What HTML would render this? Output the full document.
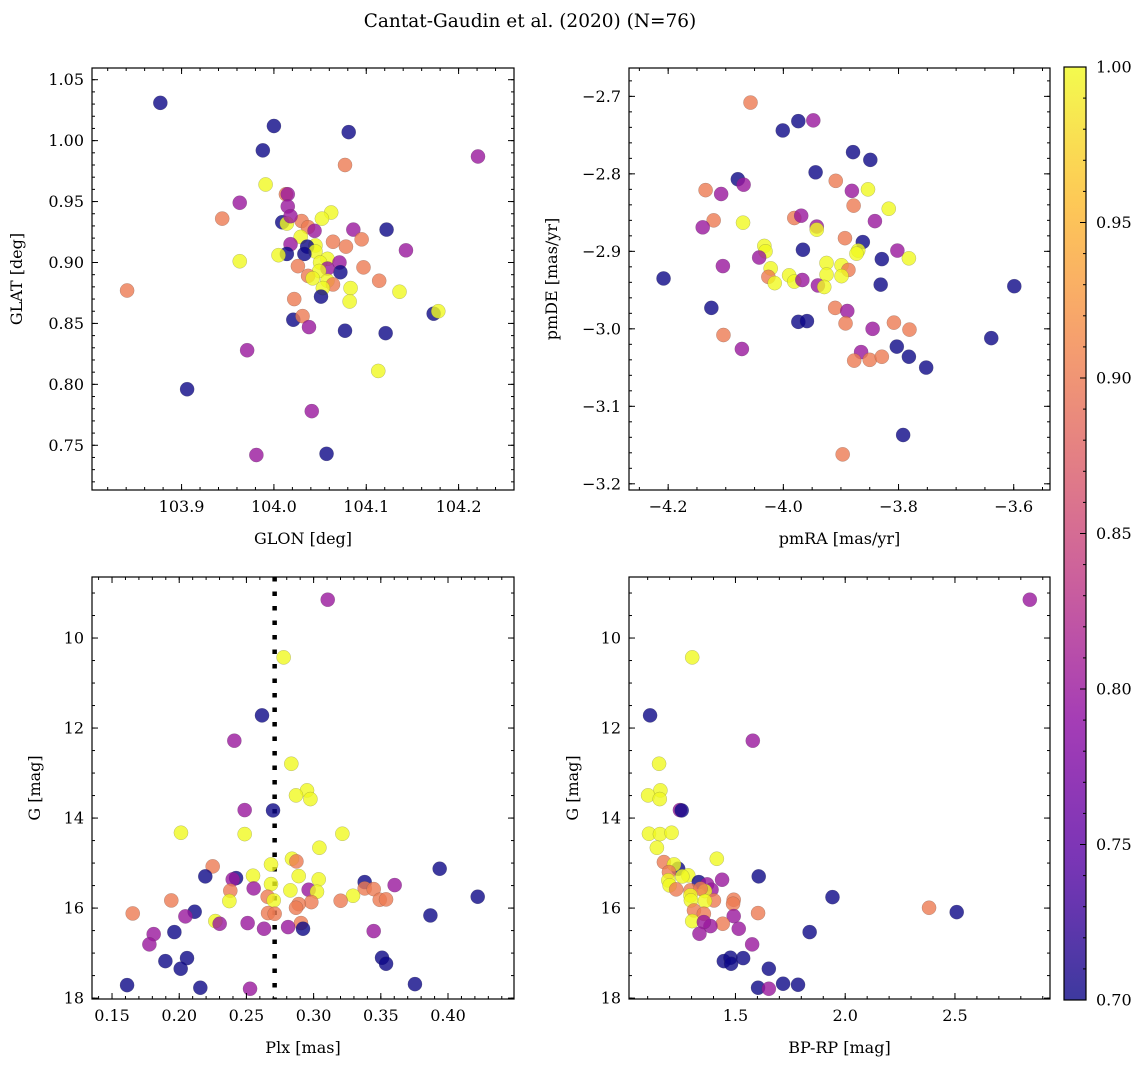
<!DOCTYPE html>
<html><head><meta charset="utf-8"><style>
html,body{margin:0;padding:0;background:#fff;}
svg{display:block;font-family:"DejaVu Serif","Liberation Serif",serif;}
</style></head><body>
<svg id="fig" width="1148" height="1067" viewBox="0 0 1148 1067" xmlns="http://www.w3.org/2000/svg">
<text x="530" y="27" text-anchor="middle" font-size="18.5">Cantat-Gaudin et al. (2020) (N=76)</text>
</svg>
<script>
// ---- data: panel 1 (GLON / GLAT) ----
const p1x=[103.877,104.000,104.081,103.988,104.221,104.077,103.991,104.013,104.015,103.963,104.015,103.944,104.062,104.052,104.009,104.014,104.030,104.037,104.044,104.018,104.029,104.086,104.122,104.095,104.064,104.078,104.018,104.045,104.036,104.045,104.143,104.014,104.005,104.033,104.058,104.071,103.963,104.050,104.026,104.097,104.072,104.058,104.049,104.037,104.042,104.114,104.058,104.064,104.053,104.083,104.136,103.841,104.051,104.022,104.082,104.173,104.178,104.021,104.031,104.038,104.077,104.121,103.971,104.113,103.906,104.041,103.981,104.057];
const p1y=[1.031,1.012,1.007,0.992,0.987,0.980,0.964,0.956,0.956,0.949,0.946,0.936,0.941,0.936,0.933,0.932,0.934,0.929,0.926,0.938,0.921,0.927,0.927,0.919,0.917,0.913,0.915,0.914,0.913,0.909,0.910,0.907,0.906,0.907,0.903,0.900,0.901,0.900,0.897,0.896,0.892,0.895,0.893,0.889,0.887,0.885,0.885,0.882,0.879,0.879,0.876,0.877,0.872,0.870,0.868,0.858,0.860,0.853,0.856,0.847,0.844,0.842,0.828,0.811,0.796,0.778,0.742,0.743];
const p1p=[0.70,0.70,0.70,0.70,0.80,0.90,1.00,0.90,0.80,0.80,0.80,0.90,1.00,1.00,0.70,1.00,0.90,0.90,0.80,0.80,1.00,0.80,0.70,0.90,0.90,0.90,0.80,1.00,0.70,1.00,0.80,0.70,1.00,0.70,1.00,0.80,1.00,1.00,0.90,0.90,0.70,0.80,1.00,0.90,1.00,0.90,1.00,0.90,1.00,1.00,1.00,0.90,0.70,0.90,1.00,0.70,1.00,0.70,0.90,0.80,0.70,0.70,0.80,1.00,0.70,0.80,0.80,0.70];
// ---- data: panel 2 (pmRA / pmDE) ----
const p2x=[-4.057,-4.001,-3.974,-3.948,-3.879,-3.849,-3.944,-4.079,-4.069,-3.909,-4.135,-4.108,-3.881,-3.853,-3.878,-3.817,-3.981,-3.969,-4.121,-4.140,-4.070,-3.942,-3.942,-3.841,-3.893,-3.862,-3.966,-4.033,-4.031,-3.870,-3.873,-3.802,-4.042,-3.829,-3.782,-3.925,-4.105,-4.022,-3.899,-3.887,-3.925,-3.899,-4.026,-3.990,-3.981,-3.967,-4.015,-4.208,-3.940,-3.929,-3.831,-3.599,-4.125,-3.910,-3.889,-3.892,-3.974,-3.959,-3.845,-3.808,-3.781,-4.104,-4.072,-3.639,-3.803,-3.865,-3.877,-3.850,-3.829,-3.782,-3.752,-3.792,-3.897];
const p2y=[-2.708,-2.744,-2.732,-2.731,-2.772,-2.782,-2.798,-2.807,-2.814,-2.809,-2.821,-2.826,-2.822,-2.820,-2.841,-2.845,-2.857,-2.854,-2.860,-2.869,-2.863,-2.868,-2.872,-2.861,-2.883,-2.888,-2.898,-2.893,-2.900,-2.899,-2.903,-2.899,-2.908,-2.910,-2.909,-2.915,-2.919,-2.922,-2.918,-2.924,-2.930,-2.932,-2.933,-2.931,-2.939,-2.937,-2.941,-2.935,-2.944,-2.946,-2.943,-2.945,-2.973,-2.973,-2.977,-2.993,-2.991,-2.990,-3.000,-2.992,-3.001,-3.008,-3.026,-3.012,-3.023,-3.030,-3.041,-3.040,-3.036,-3.036,-3.050,-3.137,-3.162];
const p2p=[0.90,0.70,0.70,0.80,0.70,0.70,0.70,0.70,0.80,0.90,0.90,0.80,0.80,1.00,0.90,1.00,0.90,0.80,0.90,0.80,1.00,0.80,1.00,0.80,0.90,0.70,0.70,1.00,1.00,1.00,1.00,0.80,0.80,0.70,1.00,1.00,0.80,1.00,1.00,0.90,1.00,1.00,0.90,1.00,1.00,0.80,1.00,0.70,0.80,1.00,0.70,0.70,0.70,0.90,0.80,0.90,0.70,0.70,0.80,0.90,0.90,0.90,0.80,0.70,0.70,0.80,0.90,0.90,0.90,0.70,0.70,0.70,0.90];
// ---- data: panel 3 (Plx / G) ----
const p3x=[0.3105,0.2777,0.2616,0.2410,0.2834,0.2951,0.2869,0.2976,0.2487,0.2698,0.2013,0.2487,0.3214,0.3043,0.2839,0.2872,0.2249,0.3938,0.2683,0.2194,0.2423,0.2549,0.2889,0.2398,0.3038,0.3380,0.3603,0.2683,0.2554,0.2380,0.2827,0.2963,0.3025,0.3380,0.3447,0.4221,0.3293,0.2658,0.1941,0.2373,0.2703,0.2983,0.3201,0.3492,0.3539,0.2889,0.2869,0.2115,0.1654,0.2046,0.3869,0.2661,0.2710,0.2269,0.2301,0.2509,0.2906,0.2921,0.2810,0.2631,0.1964,0.1810,0.3447,0.1778,0.1897,0.2058,0.2011,0.3509,0.3539,0.1612,0.2157,0.2527,0.3754];
const p3y=[9.148,10.430,11.719,12.281,12.793,13.385,13.496,13.578,13.822,13.830,14.326,14.356,14.348,14.659,14.904,14.963,15.074,15.126,15.030,15.296,15.333,15.281,15.289,15.363,15.363,15.422,15.489,15.467,15.563,15.615,15.607,15.593,15.637,15.563,15.578,15.748,15.726,15.748,15.830,15.844,15.830,15.867,15.837,15.815,15.807,15.911,15.993,16.081,16.119,16.185,16.163,16.111,16.126,16.289,16.348,16.333,16.333,16.459,16.422,16.459,16.533,16.578,16.511,16.807,17.178,17.111,17.348,17.104,17.237,17.711,17.770,17.793,17.689];
const p3p=[0.80,1.00,0.70,0.80,1.00,1.00,1.00,1.00,0.80,0.70,1.00,1.00,1.00,1.00,1.00,0.90,0.90,0.70,1.00,0.70,0.70,1.00,1.00,0.80,1.00,0.70,0.80,1.00,0.80,0.90,1.00,0.80,1.00,0.90,0.90,0.70,1.00,0.90,0.90,1.00,1.00,0.90,0.90,0.90,0.90,0.90,0.90,0.70,0.90,0.80,0.70,0.90,0.90,1.00,0.80,0.80,0.90,0.70,0.80,0.80,0.70,0.80,0.80,0.80,0.70,0.70,0.70,0.70,0.70,0.70,0.70,0.80,0.70];
// ---- data: panel 4 (BP-RP / G) ----
const p4x=[2.841,1.303,1.111,1.579,1.152,1.158,1.102,1.155,1.247,1.255,1.106,1.156,1.209,1.142,1.415,1.174,1.239,1.220,1.197,1.606,1.285,1.258,1.439,1.333,1.194,1.200,1.230,1.371,1.391,1.295,1.361,1.341,1.295,1.942,1.492,1.402,1.361,1.297,1.489,2.382,2.508,1.311,1.356,1.603,1.492,1.303,1.442,1.386,1.356,1.515,1.336,1.838,1.576,1.447,1.477,1.480,1.535,1.652,1.603,1.652,1.717,1.785];
const p4y=[9.148,10.430,11.719,12.281,12.793,13.385,13.496,13.578,13.822,13.830,14.348,14.356,14.326,14.659,14.904,14.978,15.126,15.030,15.200,15.296,15.274,15.296,15.370,15.422,15.385,15.496,15.585,15.474,15.593,15.607,15.622,15.570,15.719,15.756,15.815,15.830,15.844,15.830,15.904,15.993,16.089,16.052,16.126,16.111,16.178,16.289,16.348,16.400,16.311,16.459,16.570,16.533,16.807,17.178,17.104,17.237,17.111,17.348,17.770,17.793,17.681,17.704];
const p4p=[0.80,1.00,0.70,0.80,1.00,1.00,1.00,1.00,0.80,0.70,1.00,1.00,1.00,1.00,1.00,0.90,0.70,1.00,0.90,0.70,1.00,1.00,0.80,0.70,1.00,1.00,0.90,0.80,0.80,0.90,1.00,0.90,1.00,0.70,0.90,0.90,1.00,1.00,0.90,0.90,0.70,0.90,0.90,0.90,0.80,1.00,0.90,0.80,0.80,0.80,0.80,0.70,0.80,0.70,0.70,0.70,0.70,0.70,0.70,0.80,0.70,0.70];
// ---- tick labels ----
const p1xt=[103.9,104.0,104.1,104.2];
const p1yt=[0.75,0.80,0.85,0.90,0.95,1.00,1.05];
const p2xt=[-4.2,-4.0,-3.8,-3.6];
const p2yt=[-2.7,-2.8,-2.9,-3.0,-3.1,-3.2];
const p3xt=[0.15,0.20,0.25,0.30,0.35,0.40];
const gYt=[10,12,14,16,18];
const p4xt=[1.5,2.0,2.5];
const cbt=[0.70,0.75,0.80,0.85,0.90,0.95,1.00];
const plxLine=0.271;

const NS='http://www.w3.org/2000/svg';
const svg=document.getElementById('fig');
function mk(tag,attrs,parent){const e=document.createElementNS(NS,tag);for(const k in attrs)e.setAttribute(k,attrs[k]);(parent||svg).appendChild(e);return e;}
const stops=[[0,[13,8,135]],[0.14,[84,2,163]],[0.29,[139,10,165]],[0.43,[185,50,137]],[0.57,[219,92,104]],[0.71,[244,136,73]],[0.86,[254,188,43]],[1,[240,249,33]]];
function plasma(t){t=Math.max(0,Math.min(1,t));for(let i=1;i<stops.length;i++){if(t<=stops[i][0]){const a=stops[i-1],b=stops[i];const f=(t-a[0])/(b[0]-a[0]);const c=a[1].map((v,j)=>Math.round(v+(b[1][j]-v)*f));return 'rgb('+c.join(',')+')';}}return 'rgb(240,249,33)';}
function cval(p){return plasma((p-0.7)/0.3);}
function fmt(v,d){const s=v.toFixed(d);return s.replace('-','\u2212');}

function panel(o){
  const g=mk('g',{});
  
  
  const sx=v=>o.L+(v-o.x0)/(o.x1-o.x0)*(o.R-o.L);
  const sy=v=>o.B-(v-o.y0)/(o.y1-o.y0)*(o.B-o.T);
  if(o.vline!==undefined){
    const ln=mk('line',{x1:sx(o.vline),x2:sx(o.vline),y1:o.T,y2:o.B,stroke:'#000','stroke-width':4.5,'stroke-dasharray':'4.5 10'},g);
    
    
  }
  for(let i=0;i<o.xs.length;i++){
    const c=mk('circle',{cx:sx(o.xs[i]),cy:sy(o.ys[i]),r:7.1,fill:cval(o.ps[i]),'fill-opacity':0.8,stroke:'#444','stroke-opacity':0.35,'stroke-width':0.5},g);
    
    
  }
  const tk=mk('g',{stroke:'#000','stroke-width':1},g);
  const lo=Math.min(o.x0,o.x1),hi=Math.max(o.x0,o.x1);
  for(let v=Math.ceil(lo/o.xm-1e-6)*o.xm;v<=hi+1e-9;v+=o.xm){const x=sx(v);mk('line',{x1:x,x2:x,y1:o.B,y2:o.B-3},tk);mk('line',{x1:x,x2:x,y1:o.T,y2:o.T+3},tk);}
  const ylo=Math.min(o.y0,o.y1),yhi=Math.max(o.y0,o.y1);
  for(let v=Math.ceil(ylo/o.ym-1e-6)*o.ym;v<=yhi+1e-9;v+=o.ym){const y=sy(v);mk('line',{x1:o.L,x2:o.L+3,y1:y,y2:y},tk);mk('line',{x1:o.R,x2:o.R-3,y1:y,y2:y},tk);}
  o.xt.forEach(v=>{const x=sx(v);mk('line',{x1:x,x2:x,y1:o.B,y2:o.B-6},tk);mk('line',{x1:x,x2:x,y1:o.T,y2:o.T+6},tk);
    const t=mk('text',{x:x,y:o.B+22,'text-anchor':'middle','font-size':16},g);t.textContent=fmt(v,o.xd);
    });
  o.yt.forEach(v=>{const y=sy(v);mk('line',{x1:o.L,x2:o.L+6,y1:y,y2:y},tk);mk('line',{x1:o.R,x2:o.R-6,y1:y,y2:y},tk);
    const t=mk('text',{x:o.L-8,y:y+5.5,'text-anchor':'end','font-size':16},g);t.textContent=fmt(v,o.yd);
    });
  const fr=mk('rect',{x:o.L,y:o.T,width:o.R-o.L,height:o.B-o.T,fill:'none',stroke:'#000','stroke-width':1.2},g);
  
  const xl=mk('text',{x:(o.L+o.R)/2,y:o.B+54,'text-anchor':'middle','font-size':16},g);xl.textContent=o.xlab;
  
  const yx=o.ylx,yy=(o.T+o.B)/2;
  const yl=mk('text',{x:yx,y:yy,'text-anchor':'middle','font-size':16,transform:'rotate(-90 '+yx+' '+yy+')'},g);yl.textContent=o.ylab;
  
}
panel({name:'glon-glat-panel',L:92,R:514,T:68,B:490,x0:103.803,x1:104.260,y0:0.7133,y1:1.0596,xs:p1x,ys:p1y,ps:p1p,xt:p1xt,yt:p1yt,xm:0.02,ym:0.01,xd:1,yd:2,xlab:'GLON [deg]',ylab:'GLAT [deg]',ylx:22});
panel({name:'pm-panel',L:629,R:1050,T:68,B:490,x0:-4.268,x1:-3.537,y0:-3.208,y1:-2.6634,xs:p2x,ys:p2y,ps:p2p,xt:p2xt,yt:p2yt,xm:0.05,ym:0.02,xd:1,yd:1,xlab:'pmRA [mas/yr]',ylab:'pmDE [mas/yr]',ylx:557});
panel({name:'plx-g-panel',L:92,R:514,T:577,B:999,x0:0.1351,x1:0.4491,y0:18.02,y1:8.644,xs:p3x,ys:p3y,ps:p3p,xt:p3xt,yt:gYt,xm:0.01,ym:0.5,xd:2,yd:0,xlab:'Plx [mas]',ylab:'G [mag]',ylx:40,vline:plxLine});
panel({name:'cmd-panel',L:629,R:1050,T:577,B:999,x0:1.015,x1:2.933,y0:18.02,y1:8.644,xs:p4x,ys:p4y,ps:p4p,xt:p4xt,yt:gYt,xm:0.1,ym:0.5,xd:1,yd:0,xlab:'BP-RP [mag]',ylab:'G [mag]',ylx:578});

const cb=mk('g',{});


const defs=mk('defs',{});
const lg=mk('linearGradient',{id:'cbg',x1:0,y1:1,x2:0,y2:0},defs);
for(let i=0;i<=20;i++){mk('stop',{offset:i/20,'stop-color':plasma(i/20),'stop-opacity':0.8},lg);}
const cT=67,cB=1000,cL=1064,cR=1086;
mk('rect',{x:cL,y:cT,width:cR-cL,height:cB-cT,fill:'url(#cbg)',stroke:'#000','stroke-width':1.2},cb);
const cy=v=>cB-(v-0.7)/0.3*(cB-cT);
for(let v=0.70;v<=1.0001;v+=0.01){mk('line',{x1:cR,x2:cR-3,y1:cy(v),y2:cy(v),stroke:'#000'},cb);}
cbt.forEach(v=>{mk('line',{x1:cR,x2:cR-6,y1:cy(v),y2:cy(v),stroke:'#000'},cb);
  const t=mk('text',{x:cR+10,y:cy(v)+5.5,'font-size':16},cb);t.textContent=v.toFixed(2);
  });
</script>
</body></html>
